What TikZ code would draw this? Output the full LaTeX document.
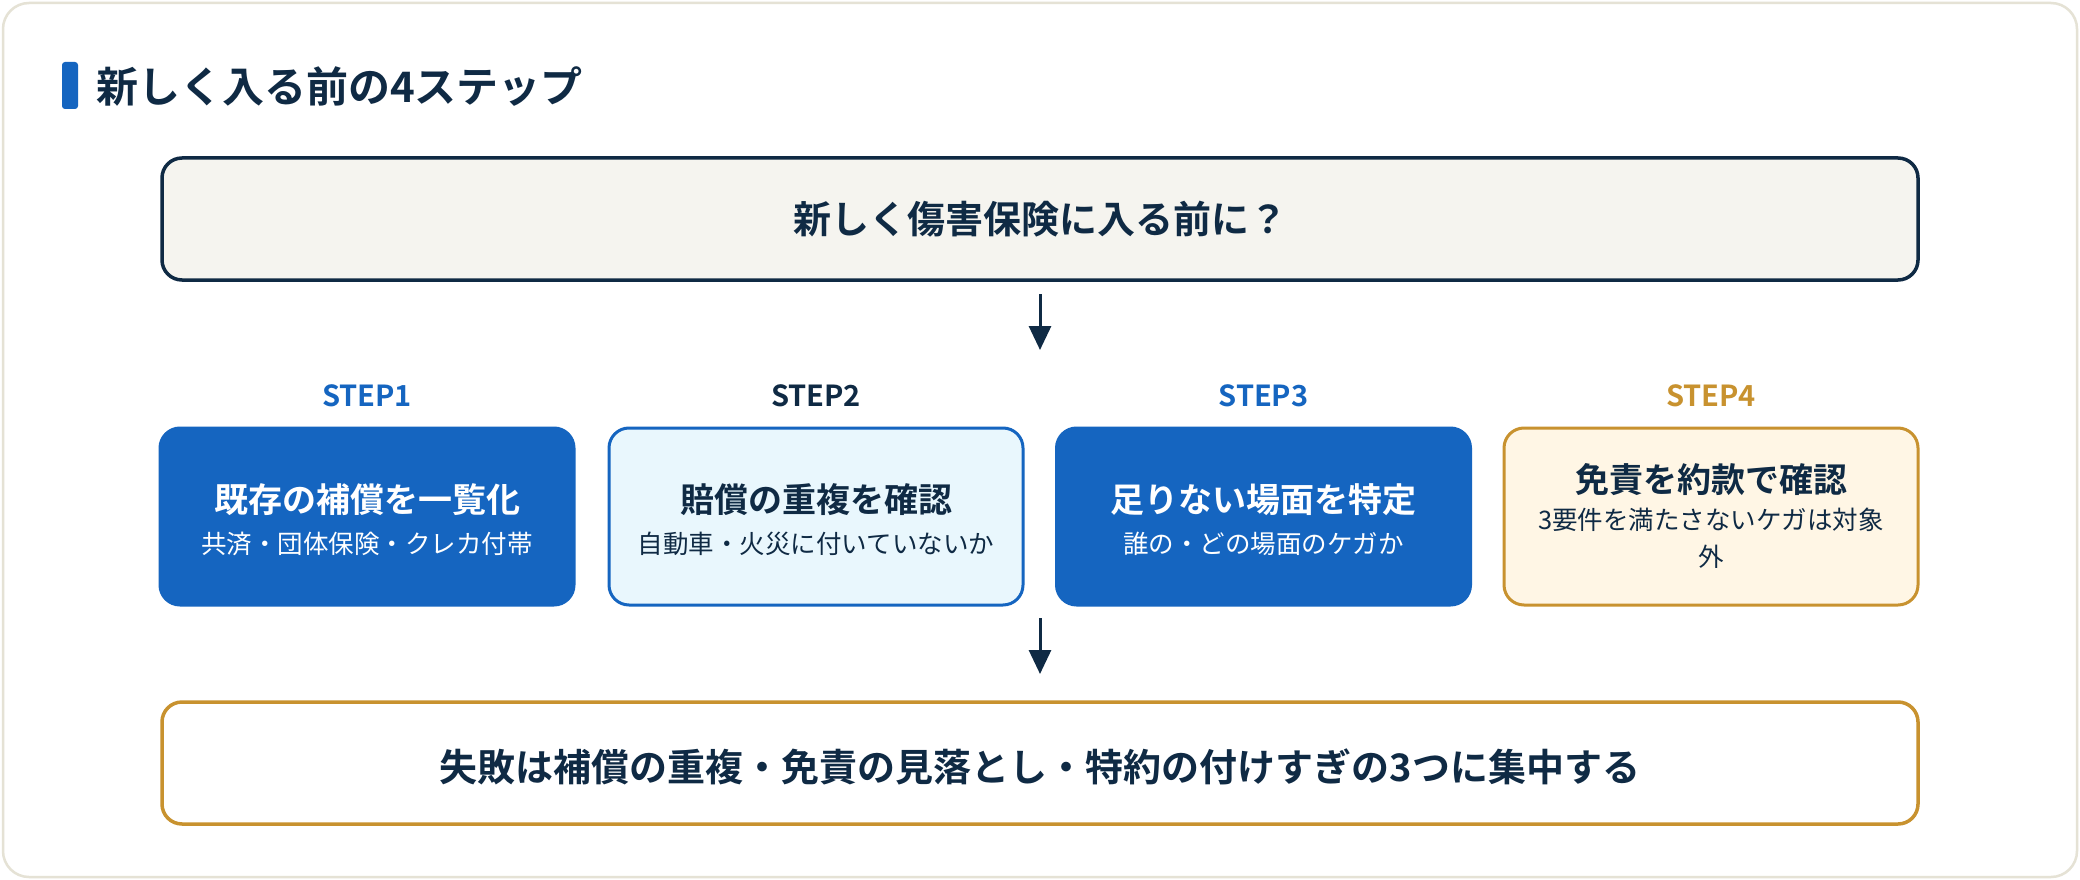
\documentclass[tikz,border=0pt]{standalone}
\usepackage{fontspec}
\setmainfont{Noto Sans CJK JP}[BoldFont={Noto Sans CJK JP Bold}]
\usetikzlibrary{arrows.meta}
\definecolor{navy}{HTML}{0F2A44}
\definecolor{bblue}{HTML}{1565C0}
\definecolor{gold}{HTML}{C8922F}
\definecolor{lcyan}{HTML}{E9F7FD}
\definecolor{cream}{HTML}{FFF6E5}
\definecolor{topfill}{HTML}{F5F4EF}
\definecolor{cardline}{HTML}{E5E2D5}
\tikzset{
  wide/.style={draw, line width=3.5pt, rounded corners=20pt, minimum width=1756pt, minimum height=122pt, inner sep=0pt},
  stepbox/.style={rounded corners=20pt, minimum width=414pt, minimum height=177pt, inner sep=0pt, line width=3pt},
  bluebox/.style={stepbox, fill=bblue, draw=bblue},
  cyanbox/.style={stepbox, fill=lcyan, draw=bblue},
  creambox/.style={stepbox, fill=cream, draw=gold},
  steplabel/.style={font=\fontsize{29pt}{33pt}\selectfont\bfseries, inner sep=0pt},
  maintext/.style={font=\fontsize{34pt}{40pt}\selectfont\bfseries, inner sep=0pt},
  subtext/.style={font=\fontsize{25.5pt}{37pt}\selectfont, inner sep=0pt, align=center},
  widetext/.style={font=\fontsize{38pt}{44pt}\selectfont\bfseries, text=navy, inner sep=0pt},
  flow/.style={draw=navy, line width=3pt, -{Triangle[length=24pt, width=22pt]}}
}
\begin{document}
\begin{tikzpicture}[x=1pt, y=-1pt]
\useasboundingbox (0,0) rectangle (2080,880);
\fill[white] (0,0) rectangle (2080,880);
% card
\draw[cardline, line width=2.5pt, fill=white, rounded corners=26pt] (3,3) rectangle (2077,877);
% title
\fill[bblue, rounded corners=3pt] (62,62) rectangle (78,109);
\node[anchor=west, font=\fontsize{42pt}{48pt}\selectfont\bfseries, text=navy, inner sep=0pt] (title) at (96,87) {新しく入る前の4ステップ};
% top box
\node[wide, draw=navy, fill=topfill] (top) at (1040,219) {};
\node[widetext] (toptext) at (top.center) {新しく傷害保険に入る前に？};
% arrow 1
\coordinate (a1s) at (1040,294);
\coordinate (a1e) at (1040,350);
\draw[flow] (a1s) -- (a1e);
% step labels
\node[steplabel, text=bblue] (l1) at (367,396) {STEP1};
\node[steplabel, text=navy] (l2) at (816,396) {STEP2};
\node[steplabel, text=bblue] (l3) at (1263.5,396) {STEP3};
\node[steplabel, text=gold] (l4) at (1711,396) {STEP4};
% step boxes
\node[bluebox] (s1) at (367,516.5) {};
\node[cyanbox] (s2) at (816,516.5) {};
\node[bluebox] (s3) at (1263.5,516.5) {};
\node[creambox] (s4) at (1711,516.5) {};
\node[maintext, text=white] (m1) at (367,500) {既存の補償を一覧化};
\node[subtext, text=white] (t1) at (367,544) {共済・団体保険・クレカ付帯};
\node[maintext, text=navy] (m2) at (816,500) {賠償の重複を確認};
\node[subtext, text=navy] (t2) at (816,544) {自動車・火災に付いていないか};
\node[maintext, text=white] (m3) at (1263.5,500) {足りない場面を特定};
\node[subtext, text=white] (t3) at (1263.5,544) {誰の・どの場面のケガか};
\node[maintext, text=navy] (m4) at (1711,480) {免責を約款で確認};
\node[subtext, text=navy, anchor=north] (t4) at (1711,508) {3要件を満たさないケガは対象\\外};
% arrow 2
\coordinate (a2s) at (1040,618);
\coordinate (a2e) at (1040,674);
\draw[flow] (a2s) -- (a2e);
% bottom box
\node[wide, draw=gold, fill=white] (bot) at (1040,763) {};
\node[widetext] (bottext) at (1040,767) {失敗は補償の重複・免責の見落とし・特約の付けすぎの3つに集中する};
\end{tikzpicture}
\end{document}
